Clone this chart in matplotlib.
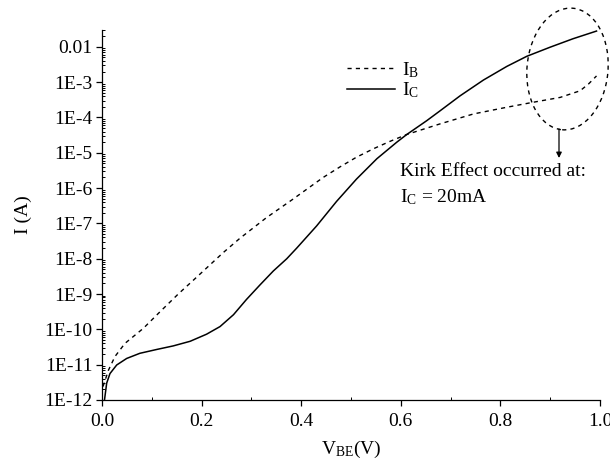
import matplotlib
matplotlib.use("Agg")
import matplotlib.pyplot as plt
from matplotlib.patches import Ellipse
from matplotlib.ticker import FixedLocator, MultipleLocator, LogLocator, NullFormatter

plt.rcParams['font.family'] = ['Liberation Serif', 'DejaVu Serif']
plt.rcParams['mathtext.fontset'] = 'custom'
plt.rcParams['mathtext.rm'] = 'Liberation Serif'
plt.rcParams['mathtext.it'] = 'Liberation Serif:italic'

# ---- data ----
vbe_ic = [0.005, 0.0094, 0.016, 0.0295, 0.0495, 0.076, 0.11, 0.143, 0.177, 0.21,
          0.237, 0.264, 0.29, 0.317, 0.344, 0.371, 0.391, 0.431, 0.471, 0.511, 0.552,
          0.592, 0.612, 0.652, 0.679, 0.719, 0.766, 0.813, 0.853, 0.9, 0.946, 0.993]
ic = [1e-12, 3e-12, 5.6e-12, 9.8e-12, 1.5e-11, 2.1e-11, 2.7e-11, 3.4e-11, 4.6e-11, 7.3e-11,
      1.2e-10, 2.6e-10, 7e-10, 1.8e-9, 4.5e-9, 1e-8, 2e-8, 8.5e-8, 4.2e-7, 1.8e-6, 6.8e-6,
      2e-5, 3.3e-5, 8.1e-5, 1.55e-4, 4.1e-4, 1.15e-3, 2.8e-3, 5.4e-3, 9.8e-3, 1.7e-2, 2.8e-2]

vbe_ib = [0.002, 0.013, 0.026, 0.046, 0.083, 0.116, 0.153, 0.19, 0.2436, 0.277, 0.33,
          0.381, 0.444, 0.478, 0.511, 0.545, 0.578, 0.612, 0.679, 0.746, 0.813, 0.866,
          0.92, 0.96, 0.977, 0.993]
ib = [2.4e-12, 7e-12, 1.7e-11, 4e-11, 1.07e-10, 3.1e-10, 1e-9, 3e-9, 1.5e-8, 3.8e-8, 1.45e-7,
      4.6e-7, 2e-6, 4e-6, 7.5e-6, 1.3e-5, 2.1e-5, 3.3e-5, 6.6e-5, 1.26e-4, 1.95e-4, 2.7e-4,
      3.7e-4, 5.7e-4, 8.9e-4, 1.5e-3]

y_major = [1e-12, 1e-11, 1e-10, 1e-9, 1e-8, 1e-7, 1e-6, 1e-5, 1e-4, 1e-3, 1e-2]
y_labels = ['1E-12', '1E-11', '1E-10', '1E-9', '1E-8', '1E-7', '1E-6', '1E-5', '1E-4', '1E-3', '0.01']
x_major = [0.0, 0.2, 0.4, 0.6, 0.8, 1.0]
x_labels = ['0.0', '0.2', '0.4', '0.6', '0.8', '1.0']

fig = plt.figure(figsize=(6.10, 4.66), dpi=100)
ax = fig.add_axes([102/610, 66/466, 498/610, 370/466])

ax.plot(vbe_ib, ib, color='black', lw=1.0, ls=(0, (3, 3)), label=r'$\mathrm{I_B}$')
ax.plot(vbe_ic, ic, color='black', lw=1.1, label=r'$\mathrm{I_C}$')

ax.set_yscale('log')
ax.set_xlim(0, 1.0)
ax.set_ylim(1e-12, 3e-2)

ax.yaxis.set_major_locator(FixedLocator(y_major))
ax.set_yticklabels(y_labels)
ax.yaxis.set_minor_locator(LogLocator(base=10, subs=range(2, 10), numticks=30))
ax.yaxis.set_minor_formatter(NullFormatter())
ax.set_xticks(x_major)
ax.set_xticklabels(x_labels)
ax.xaxis.set_minor_locator(MultipleLocator(0.1))

for s in ['top', 'right']:
    ax.spines[s].set_visible(False)
for s in ['left', 'bottom']:
    ax.spines[s].set_linewidth(0.9)

ax.tick_params(which='major', direction='out', length=4, width=0.9, labelsize=14, pad=3)
ax.tick_params(which='minor', direction='in', length=2.5, width=0.7)
ax.tick_params(axis='x', which='major', pad=5)

ax.set_ylabel('I (A)', fontsize=14, labelpad=9)
ax.set_xlabel(r'$\mathrm{V_{BE}}$(V)', fontsize=14, labelpad=7)

leg = ax.legend(loc='upper left', bbox_to_anchor=(347/610, 1 - 60/466), bbox_transform=fig.transFigure,
                frameon=False, fontsize=14, handlelength=2.47, handletextpad=0.35, labelspacing=0.05,
                borderpad=0, borderaxespad=0)

ell = Ellipse((5.675, 3.97), 0.81, 1.22, angle=-5, transform=fig.dpi_scale_trans,
              fill=False, ls=(0, (3, 3)), lw=1.0, color='black', clip_on=False)
fig.patches.append(ell)

ax.annotate('', xy=(559, 308), xycoords='figure pixels', xytext=(559, 337), textcoords='figure pixels',
            arrowprops=dict(arrowstyle='-|>', color='black', lw=0.9, mutation_scale=8,
                            shrinkA=0, shrinkB=0))

fig.text(400/610, 1 - 172/466, 'Kirk Effect occurred at:', fontsize=14, ha='left', va='center')
fig.text(400/610, 1 - 197/466, r'$\mathrm{I_C}$ = 20mA', fontsize=14, ha='left', va='center')

fig.savefig('out.png', dpi=100)
